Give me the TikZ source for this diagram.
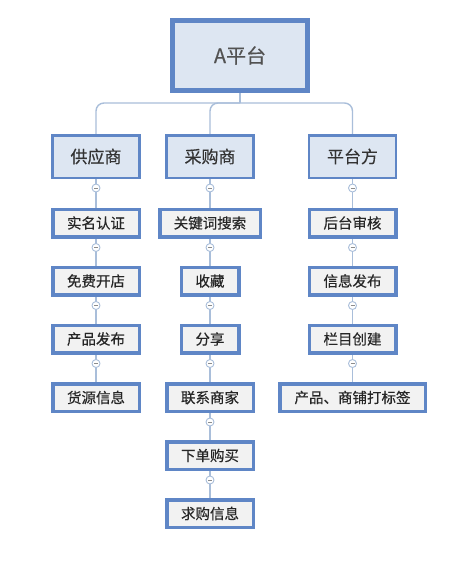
\documentclass[tikz,border=0pt]{standalone}
\usepackage{fontspec}
\newfontfamily\cjk[FakeBold=0.4]{Noto Sans CJK SC}
\usetikzlibrary{backgrounds}
\definecolor{boxblue}{HTML}{5F86C6}
\definecolor{fillblue}{HTML}{DDE6F2}
\definecolor{fillgray}{HTML}{F2F2F2}
\definecolor{linecol}{HTML}{A9BEDA}
\definecolor{txt}{HTML}{333333}
\begin{document}
\begin{tikzpicture}[x=1pt,y=1pt,
 rootbox/.style={draw=boxblue, line width=5pt, fill=fillblue, minimum width=135pt, minimum height=70pt, inner sep=0pt, font=\cjk\fontsize{20}{22}\selectfont, text=txt!85},
 catbox/.style={draw=boxblue, line width=2.5pt, fill=fillblue, minimum width=87pt, minimum height=42.5pt, inner sep=0pt, font=\cjk\fontsize{17}{19}\selectfont, text=txt},
 itembox/.style={draw=boxblue, line width=3.5pt, fill=fillgray, minimum width=86.5pt, minimum height=27.5pt, inner sep=0pt, font=\cjk\fontsize{14.5}{16}\selectfont, text=black!85},
 conn/.style={draw=linecol, line width=1.4pt},
 toggle/.style={circle, draw=linecol, line width=0.9pt, fill=white, minimum size=8pt, inner sep=0pt,
   path picture={\draw[black!45, line width=0.6pt] ([xshift=-2pt]path picture bounding box.center) -- ([xshift=2pt]path picture bounding box.center);}}
]
\useasboundingbox (0,0) rectangle (455,-565);
\begin{scope}[on background layer]
\fill[white] (0,0) rectangle (455,-565);
\end{scope}

% root
\node[rootbox] (top) at (240,-55.5) {A平台};
% categories
\node[catbox] (s) at (96,-156.5) {供应商};
\node[catbox] (b) at (210,-156.5) {采购商};
\node[catbox] (p) at (352.5,-156.5) {平台方};

% column 1
\node[itembox] (s1) at (96,-223) {实名认证};
\node[itembox] (s2) at (96,-281) {免费开店};
\node[itembox] (s3) at (96,-339) {产品发布};
\node[itembox] (s4) at (96,-397.5) {货源信息};
% column 2
\node[itembox, minimum width=100.5pt] (b1) at (210,-223) {关键词搜索};
\node[itembox, minimum width=57.5pt] (b2) at (210,-281) {收藏};
\node[itembox, minimum width=57.5pt] (b3) at (210,-339) {分享};
\node[itembox] (b4) at (210,-397.5) {联系商家};
\node[itembox] (b5) at (210,-455.5) {下单购买};
\node[itembox] (b6) at (210,-513.5) {求购信息};
% column 3
\node[itembox] (p1) at (352.5,-223) {后台审核};
\node[itembox] (p2) at (352.5,-281) {信息发布};
\node[itembox] (p3) at (352.5,-339) {栏目创建};
\node[itembox, minimum width=145.5pt] (p4) at (352.5,-397.5) {产品、商铺打标签};

\begin{scope}[on background layer]
\coordinate (j) at (240,-103);
\draw[conn] (top) -- (j);
\draw[conn, rounded corners=8pt] (j) -| (s);
\draw[conn, rounded corners=8pt] (j) -| (b);
\draw[conn, rounded corners=8pt] (j) -| (p);
\foreach \a/\c in {s/s1,s1/s2,s2/s3,s3/s4,b/b1,b1/b2,b2/b3,b3/b4,b4/b5,b5/b6,p/p1,p1/p2,p2/p3,p3/p4}{
  \draw[conn] (\a) -- (\c);
}
\end{scope}

\foreach \a in {s,s1,s2,s3,b,b1,b2,b3,b4,b5,p,p1,p2,p3}{
  \node[toggle] (t\a) at ([yshift=-9pt]\a.south) {};
}
\end{tikzpicture}
\end{document}
